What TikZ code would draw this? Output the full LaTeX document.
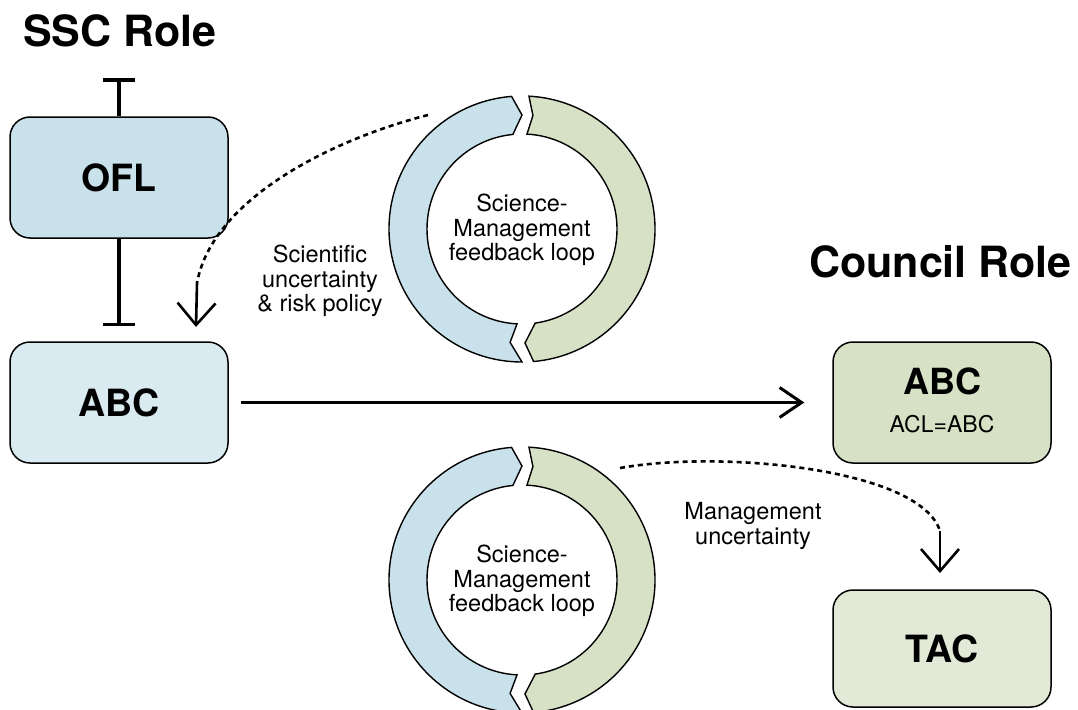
\documentclass[tikz,border=0pt]{standalone}
\usepackage{fontspec}
\setmainfont{TeX Gyre Heros}
\usetikzlibrary{arrows.meta}
\definecolor{oflfill}{HTML}{C9E1EA}
\definecolor{sabcfill}{HTML}{DAEAF1}
\definecolor{ringblue}{HTML}{C9E1EA}
\definecolor{ringgreen}{HTML}{D6E1C5}
\definecolor{cabcfill}{HTML}{D6E1C5}
\definecolor{tacfill}{HTML}{E2EAD7}
\newcommand\smloop[2]{%
\begin{scope}[shift={#1}]
\filldraw[ringpart, fill=ringblue] (95.5:95) -- (90:114) -- (94.5:133) arc[start angle=94.5,end angle=270,radius=133] -- (264:114) -- (267:95) arc[start angle=267,end angle=95.5,radius=95] -- cycle;
\filldraw[ringpart, fill=ringgreen] (87:133) -- (84.5:114) -- (87:95) arc[start angle=87,end angle=-82,radius=95] -- (-88.5:114) -- (-85:133) arc[start angle=-85,end angle=87,radius=133] -- cycle;
\node[lbl] (#2) at (0,-1) {Science-\\Management\\feedback loop};
\end{scope}}
\begin{document}
\begin{tikzpicture}[x=1pt,y=1pt,
  box/.style={draw=black, line width=1.5pt, rounded corners=20pt, minimum width=218pt, minimum height=121pt, inner sep=0pt, font=\fontsize{37.5}{37.5}\selectfont\bfseries},
  roletitle/.style={font=\fontsize{43}{43}\selectfont\bfseries, inner sep=0pt},
  lbl/.style={font=\fontsize{23.5}{24.5}\selectfont, align=center, inner sep=0pt},
  ringpart/.style={draw=black, line width=1.4pt, line join=miter},
  tbar/.style={line width=3.5pt, -{Bar[width=32pt]}},
  flow/.style={line width=3pt, -{Straight Barb[length=22pt,width=30pt]}},
  hint/.style={line width=2.6pt, dash pattern=on 5pt off 4pt},
  hinthead/.style={line width=2.6pt, -{Straight Barb[length=22pt,width=38pt]}}
]
\useasboundingbox (0,0) rectangle (1078,-709);

% titles
\node[roletitle, anchor=base west] (ssc) at (23,-47) {SSC Role};
\node[roletitle, anchor=base east] (council) at (1072,-277) {Council Role};

% boxes
\node[box, fill=oflfill] (ofl) at (119,-177.5) {OFL};
\node[box, fill=sabcfill] (labc) at (119,-402.5) {ABC};
\node[box, fill=cabcfill] (rabc) at (942,-402.5) {};
\node[box, fill=tacfill, minimum height=117pt] (tac) at (942,-648.5) {TAC};
\node[font=\fontsize{36}{36}\selectfont\bfseries, inner sep=0pt, anchor=base] (rabct) at (942,-394) {ABC};
\node[font=\fontsize{23}{23}\selectfont, inner sep=0pt, anchor=base] (rabcs) at (942,-432) {ACL=ABC};

% T-bars
\coordinate (tb1) at (119,-78);
\coordinate (tb2) at (119,-326);
\draw[tbar] (ofl.north) -- (tb1);
\draw[tbar] (ofl.south) -- (tb2);

% main arrow
\draw[flow, shorten <=12pt, shorten >=28pt] (labc) -- (rabc);

% loops
\smloop{(522,-229)}{loopa}
\smloop{(522,-580)}{loopb}

% dashed connectors
\coordinate (h1s) at (428,-115);
\coordinate (h1m) at (197,-283);
\coordinate (h1e) at (196,-327);
\draw[hint] (h1s) .. controls (330,-140) and (212,-200) .. (h1m);
\draw[hinthead] (h1m) -- (h1e);

\coordinate (h2s) at (620,-468);
\coordinate (h2m) at (940,-531);
\coordinate (h2e) at (940,-573);
\draw[hint] (h2s) .. controls (720,-450) and (920,-468) .. (h2m);
\draw[hinthead] (h2m) -- (h2e);

% labels
\node[lbl] (sci) at (320,-281) {Scientific\\uncertainty\\\& risk policy};
\node[lbl] (mgmt) at (753,-526) {Management\\uncertainty};
\end{tikzpicture}
\end{document}
